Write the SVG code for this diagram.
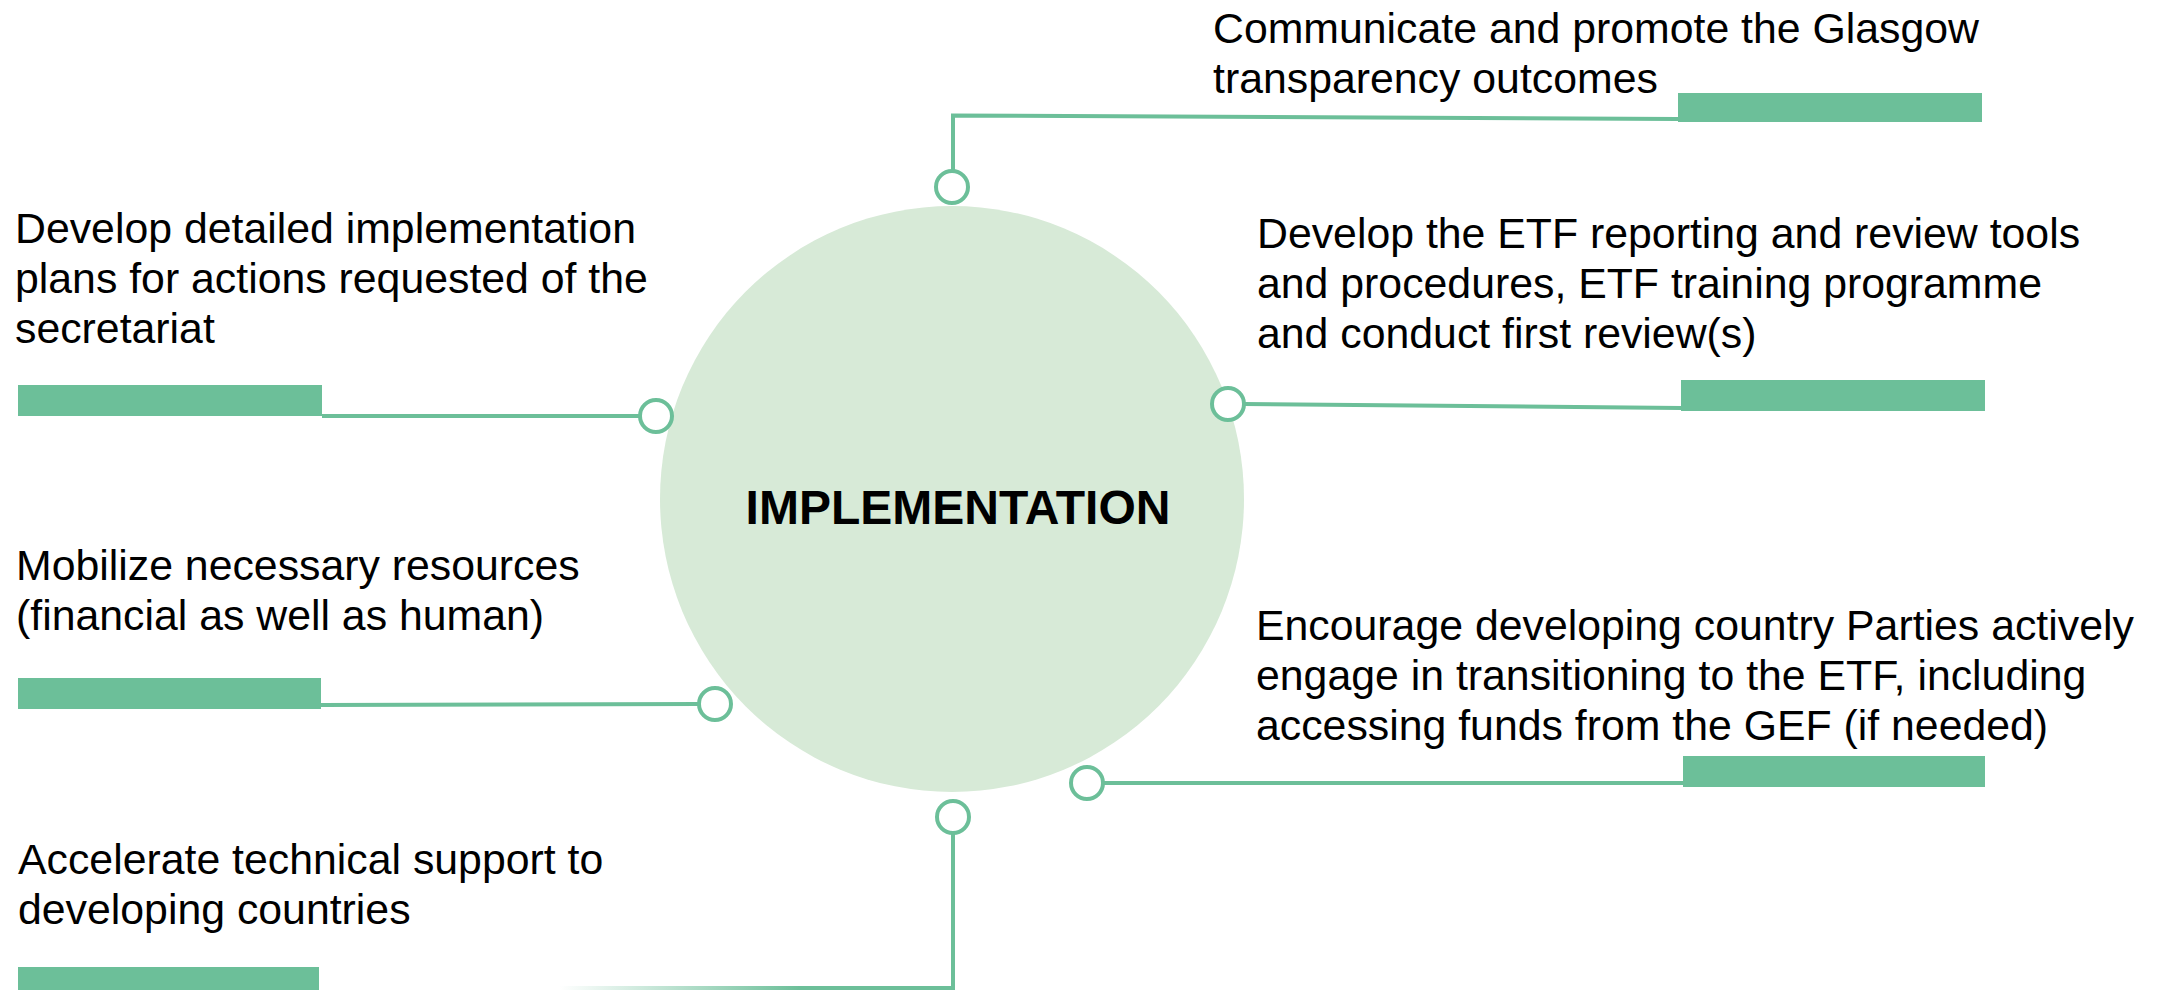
<svg xmlns="http://www.w3.org/2000/svg" width="2166" height="990" viewBox="0 0 2166 990">
  <defs>
    <style>
      .lbl { font-family: "Liberation Sans", Arial, sans-serif; font-size: 42.8px; fill: #000; }
      .title { font-family: "Liberation Sans", Arial, sans-serif; font-size: 48px; font-weight: bold; fill: #000; }
      .bar { fill: #6CBF99; }
      .conn { fill: none; stroke: #6CBF99; stroke-width: 4; }
      .dot { fill: #fff; stroke: #6CBF99; stroke-width: 4; }
    </style>
    <linearGradient id="fade" gradientUnits="userSpaceOnUse" x1="560" y1="0" x2="800" y2="0">
      <stop offset="0" stop-color="#6CBF99" stop-opacity="0"/>
      <stop offset="1" stop-color="#6CBF99" stop-opacity="1"/>
    </linearGradient>
  </defs>
  <rect width="2166" height="990" fill="#fff"/>

  <g id="center">
    <ellipse cx="952" cy="499" rx="292" ry="293" fill="#D7EAD7"/>
    <text class="title" x="958" y="524" text-anchor="middle">IMPLEMENTATION</text>
  </g>

  <g id="connectors">
    <polyline class="conn" points="953,171 953,115.5 1678,119"/>
    <line class="conn" x1="1244" y1="404" x2="1681" y2="408"/>
    <line class="conn" x1="322" y1="416" x2="640" y2="416"/>
    <line class="conn" x1="321" y1="705" x2="699" y2="704"/>
    <line class="conn" x1="1103" y1="783" x2="1683" y2="783"/>
    <polyline class="conn" points="953,833 953,988 800,988"/>
    <line x1="560" y1="988" x2="800" y2="988" stroke="url(#fade)" stroke-width="4"/>
    <circle class="dot" cx="952" cy="187" r="16"/>
    <circle class="dot" cx="1228" cy="404" r="16"/>
    <circle class="dot" cx="656" cy="416" r="16"/>
    <circle class="dot" cx="715" cy="704" r="16"/>
    <circle class="dot" cx="1087" cy="783" r="16"/>
    <circle class="dot" cx="953" cy="817" r="16"/>
  </g>

  <g id="node-communicate">
    <rect class="bar" x="1678" y="93" width="304" height="29"/>
    <text class="lbl" x="1213" y="43">Communicate and promote the Glasgow</text>
    <text class="lbl" x="1213" y="93">transparency outcomes</text>
  </g>

  <g id="node-etf-tools">
    <rect class="bar" x="1681" y="380" width="304" height="31"/>
    <text class="lbl" x="1257" y="248">Develop the ETF reporting and review tools</text>
    <text class="lbl" x="1257" y="298">and procedures, ETF training programme</text>
    <text class="lbl" x="1257" y="348">and conduct first review(s)</text>
  </g>

  <g id="node-encourage">
    <rect class="bar" x="1683" y="756" width="302" height="31"/>
    <text class="lbl" x="1256" y="640">Encourage developing country Parties actively</text>
    <text class="lbl" x="1256" y="690">engage in transitioning to the ETF, including</text>
    <text class="lbl" x="1256" y="740">accessing funds from the GEF (if needed)</text>
  </g>

  <g id="node-plans">
    <rect class="bar" x="18" y="385" width="304" height="31"/>
    <text class="lbl" x="15" y="243">Develop detailed implementation</text>
    <text class="lbl" x="15" y="293">plans for actions requested of the</text>
    <text class="lbl" x="15" y="343">secretariat</text>
  </g>

  <g id="node-mobilize">
    <rect class="bar" x="18" y="678" width="303" height="31"/>
    <text class="lbl" x="16" y="580">Mobilize necessary resources</text>
    <text class="lbl" x="16" y="630">(financial as well as human)</text>
  </g>

  <g id="node-accelerate">
    <rect class="bar" x="18" y="967" width="301" height="23"/>
    <text class="lbl" x="18" y="874">Accelerate technical support to</text>
    <text class="lbl" x="18" y="924">developing countries</text>
  </g>
</svg>
